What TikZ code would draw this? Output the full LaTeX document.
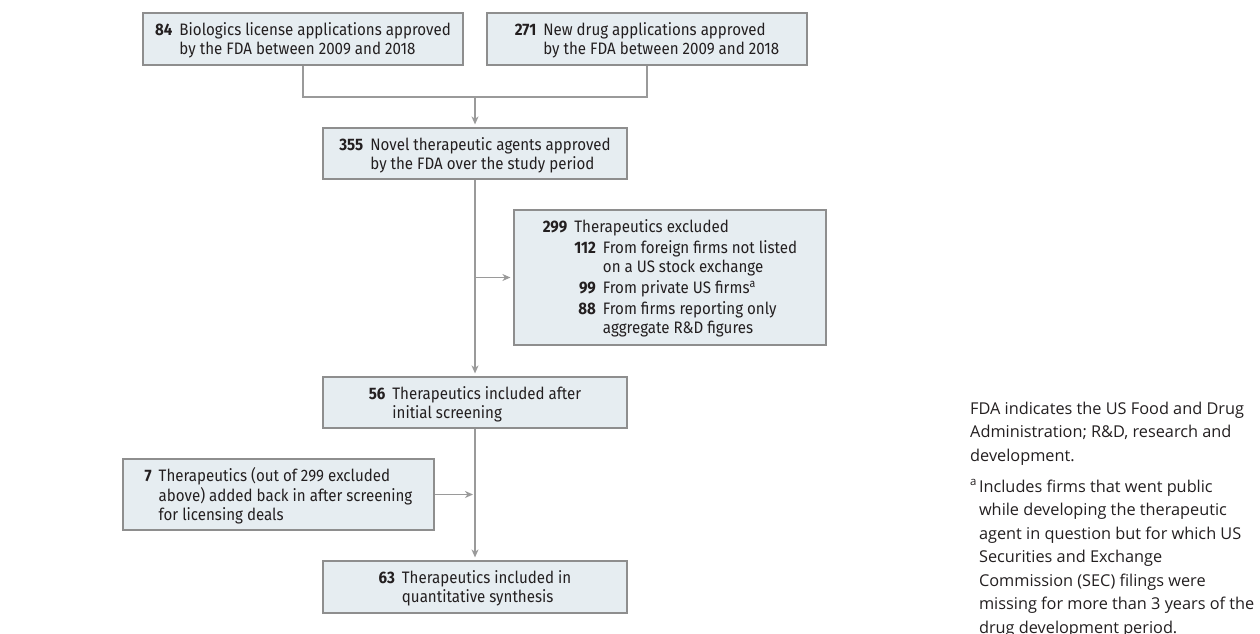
\documentclass[tikz,border=0pt]{standalone}
\usepackage{fontspec}
\setmainfont[FakeStretch=0.91]{Fira Sans}
\newfontfamily\notefont{Open Sans}
\usetikzlibrary{arrows.meta}
\definecolor{boxfill}{HTML}{E6EDF1}
\definecolor{boxline}{HTML}{8E8E8E}
\definecolor{conn}{HTML}{9A9A9A}
\definecolor{txt}{HTML}{231F20}
\newcommand\boxtext[1]{\raisebox{-2.5pt}[\height][\depth]{\begin{tabular}{@{}r@{\hspace{7pt}}l@{}}#1\end{tabular}}}
\begin{document}
\begin{tikzpicture}[x=1pt,y=-1pt,
  box/.style={draw=boxline, fill=boxfill, line width=1.2pt, inner sep=0pt, text=txt,
    font=\fontsize{16.6}{19}\selectfont},
  conline/.style={draw=conn, line width=1.2pt},
  arr/.style={conline, -{Stealth[length=8pt,width=7pt,inset=2.5pt]}, shorten >=3pt}]
\useasboundingbox (0,0) rectangle (1260,634);
\fill[white] (0,0) rectangle (1260,634);
\node[box, minimum width=320pt, minimum height=52pt] (b1) at (303,39)
  {\boxtext{\textbf{84} & Biologics license applications approved\\ & by the FDA between 2009 and 2018}};
\node[box, minimum width=320pt, minimum height=52pt] (b2) at (647,39)
  {\boxtext{\textbf{271} & New drug applications approved\\ & by the FDA between 2009 and 2018}};
\node[box, minimum width=304pt, minimum height=51pt] (b3) at (475,153.5)
  {\boxtext{\textbf{355} & Novel therapeutic agents approved\\ & by the FDA over the study period}};
\node[box, minimum width=312pt, minimum height=135pt] (b4) at (670,277.5)
  {\raisebox{-2pt}[\height][\depth]{\begin{tabular}{@{}r@{\hspace{7pt}}r@{\hspace{7pt}}l@{}}\textbf{299} & \multicolumn{2}{@{}l@{}}{Therapeutics excluded}\\[2pt]
   & \textbf{112} & From foreign firms not listed\\ & & on a US stock exchange\\[2pt]
   & \textbf{99} & From private US firms\textsuperscript{a}\\[2pt]
   & \textbf{88} & From firms reporting only\\ & & aggregate R\&D figures\end{tabular}}};
\node[box, minimum width=304pt, minimum height=51pt] (b5) at (475,402.5)
  {\boxtext{\textbf{56} & Therapeutics included after\\ & initial screening}};
\node[box, minimum width=311pt, minimum height=71pt] (b6) at (278.5,494.5)
  {\boxtext{\textbf{7} & Therapeutics (out of 299 excluded\\ & above) added back in after screening\\ & for licensing deals}};
\node[box, minimum width=304pt, minimum height=52pt] (b7) at (475,587)
  {\boxtext{\textbf{63} & Therapeutics included in\\ & quantitative synthesis}};
\node[anchor=base west, inner sep=0pt, text=txt, font=\notefont\fontsize{16.3}{23.5}\selectfont] (note) at (970,414)
  {\begin{tabular}[t]{@{}l@{}l@{}}\multicolumn{2}{@{}l@{}}{FDA indicates the US Food and Drug}\\
   \multicolumn{2}{@{}l@{}}{Administration; R\&D, research and}\\
   \multicolumn{2}{@{}l@{}}{development.}\\[7.5pt]
   \textsuperscript{a}\hspace{2pt} & Includes firms that went public\\
   & while developing the therapeutic\\
   & agent in question but for which US\\
   & Securities and Exchange\\
   & Commission (SEC) filings were\\
   & missing for more than 3 years of the\\
   & drug development period.\end{tabular}};
\coordinate (j) at (475,97);
\draw[conline] (b1.south) |- (j) -| (b2.south);
\draw[arr] (j) -- (b3.north);
\draw[arr] (b3.south) -- (b5.north);
\coordinate (k) at (b3.south |- b4.west);
\draw[arr] (k) -- (b4.west);
\draw[arr] (b5.south) -- (b7.north);
\coordinate (m) at (b5.south |- b6.east);
\draw[arr, shorten >=2pt] (b6.east) -- (m);
\end{tikzpicture}
\end{document}
